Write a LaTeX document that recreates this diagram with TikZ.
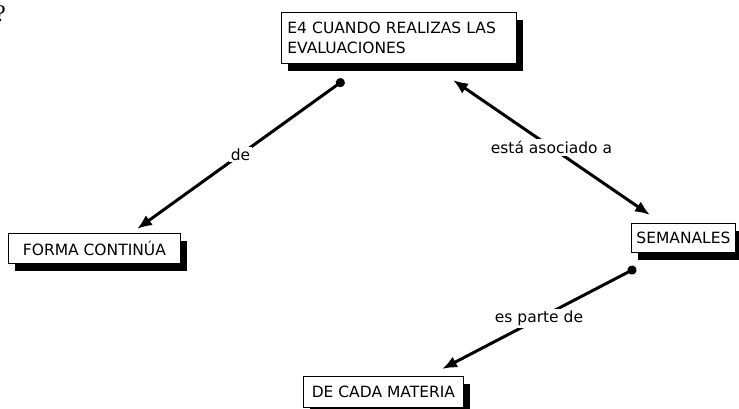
\documentclass[tikz,border=0pt]{standalone}
\usepackage{fontspec}
\setmainfont{Liberation Serif}
\setsansfont{DejaVu Sans}
\usetikzlibrary{arrows.meta, shadows, positioning}
\tikzset{
    concept/.style={draw, fill=white, line width=0.8pt, anchor=north west, inner sep=5pt,
        font=\sffamily\fontsize{15.5}{20}\selectfont, align=left,
        drop shadow={shadow xshift=7pt, shadow yshift=-8pt, fill=black, opacity=1}},
    linkText/.style={fill=white, inner sep=2pt, font=\sffamily\fontsize{15.5}{18}\selectfont},
    linkEdge/.style={{Circle[length=9pt]}-{Latex[length=15pt, width=12pt]}, line width=3pt},
    linkBoth/.style={{Latex[length=15pt, width=12pt]}-{Latex[length=15pt, width=12pt]}, line width=3pt},
}
\newcommand{\drawLink}[4][linkEdge]{
    \draw[#1] (#2) -- node[linkText] {#4} (#3);
}

\begin{document}
\begin{tikzpicture}[x=1pt, y=-1pt]
    \useasboundingbox (0,0) rectangle (739,409);

    \node[anchor=base west, inner sep=0pt, font=\fontsize{24}{24}\selectfont] (mark) at (-5,22) {?};

    \node[concept, minimum width=235pt, minimum height=51pt, text width=223pt] (e4) at (281,12) {E4 CUANDO REALIZAS LAS\\EVALUACIONES};
    \node[concept, minimum width=172pt, minimum height=30pt] (forma) at (8,233) {FORMA CONTINÚA};
    \node[concept, minimum width=103pt, minimum height=29pt] (semanales) at (631,223) {SEMANALES};
    \node[concept, minimum width=160pt, minimum height=31pt] (materia) at (303,376) {DE CADA MATERIA};

    \coordinate (e4Out) at (344,80);
    \coordinate (formaIn) at (137,229);
    \coordinate (e4In) at (453,80);
    \coordinate (semIn) at (650,215);
    \coordinate (semOut) at (636,268);
    \coordinate (materiaIn) at (442,369);

    \drawLink{e4Out}{formaIn}{de}
    \drawLink[linkBoth]{e4In}{semIn}{está asociado a}
    \drawLink{semOut}{materiaIn}{es parte de}

\end{tikzpicture}
\end{document}
